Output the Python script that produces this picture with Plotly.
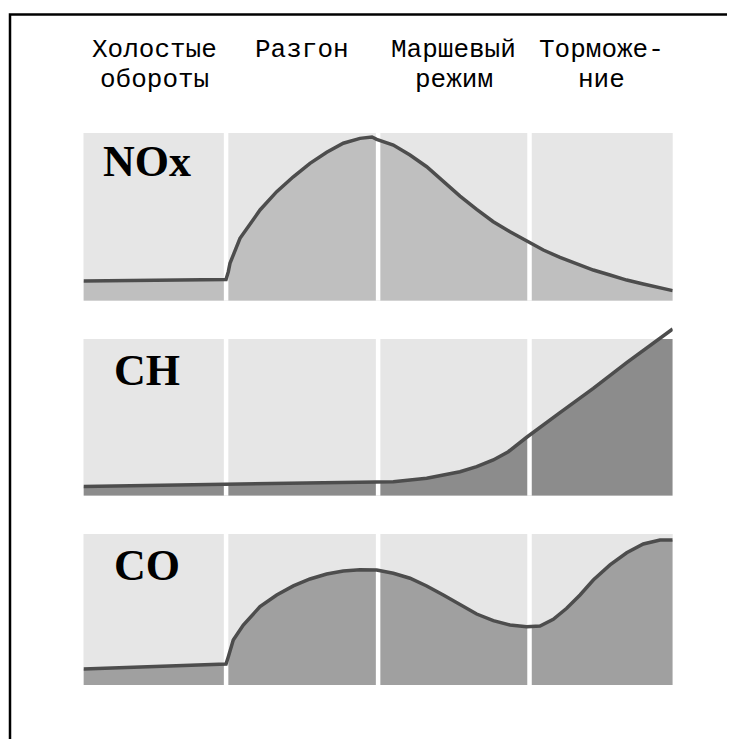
import plotly.graph_objects as go

# ---------------- data ----------------
phase_top = ["Холостые", "Разгон", "Маршевый", "Торможе-"]
phase_bottom = ["обороты", "", "режим", "ние"]
phase_bounds = [0, 24.2, 50.0, 75.7, 100]

nox_x = [0, 24.19, 24.58, 24.86, 26.56, 29.96, 32.79, 35.61, 38.44, 41.28, 44.09, 46.93,
         48.96, 49.76, 52.58, 55.41, 58.25, 61.07, 63.90, 66.73, 69.55, 72.39, 75.22,
         78.04, 80.87, 83.71, 86.52, 89.36, 92.19, 95.01, 97.85, 100]
nox_y = [11.7, 12.6, 17.3, 22.3, 37.2, 54.1, 65.0, 73.9, 81.9, 88.5, 93.9, 96.8,
         97.6, 96.2, 92.8, 86.9, 79.9, 71.0, 62.4, 54.5, 47.1, 41.1, 35.8,
         30.2, 25.9, 21.9, 18.3, 15.3, 12.3, 10.0, 8.0, 6.0]

ch_x = [0, 24.19, 49.64, 52.58, 58.25, 63.90, 66.73, 69.55, 72.10, 75.22, 80.87,
        86.52, 92.19, 97.85, 100]
ch_y = [5.9, 7.1, 8.6, 8.9, 11.1, 15.3, 18.5, 22.8, 28.1, 37.3, 53.0,
        68.5, 84.9, 100.4, 106.4]

co_x = [0, 24.19, 24.58, 25.42, 27.12, 29.96, 32.79, 35.61, 38.44, 41.28, 44.09, 46.93,
        49.76, 52.58, 55.41, 58.25, 61.07, 63.90, 66.73, 69.55, 72.39, 75.22, 77.48,
        79.73, 82.01, 84.27, 86.52, 89.36, 92.19, 95.01, 97.85, 100]
co_y = [10.6, 13.9, 18.7, 29.8, 39.7, 51.9, 59.6, 65.6, 70.2, 73.5, 75.5, 76.4,
        76.2, 74.0, 70.7, 65.6, 59.6, 53.0, 47.0, 42.6, 39.7, 38.6, 39.1,
        43.5, 50.8, 59.6, 69.5, 79.5, 87.6, 93.4, 96.0, 96.0]

pollutants = ["NOx", "CH", "CO"]
series_x = [nox_x, ch_x, co_x]
series_y = [nox_y, ch_y, co_y]

# ---------------- style / layout ----------------
W, H = 735, 739
PAGE_OFFSET = 8  # the page body adds an 8px margin around the figure
BG = "#e6e6e6"
LINE = "#4d4d4d"
FILLS = ["#bfbfbf", "#8c8c8c", "#a0a0a0"]
# panel pixel extents on screen (top, bottom)
PANELS = [(133, 300.7), (339, 495.7), (534, 685)]
LABEL_Y = [0.83, 0.80, 0.79]
X_LEFT, X_RIGHT = 83.5, 672.7
CH_OVER_TOP = 110  # overlay range so the CH line may leave its panel


def fx(p):
    return (p - PAGE_OFFSET) / W


def fy(p):
    return 1 - (p - PAGE_OFFSET) / H


fig = go.Figure()
layout = dict(
    width=W, height=H, margin=dict(l=0, r=0, t=0, b=0),
    paper_bgcolor="white", plot_bgcolor="rgba(0,0,0,0)", showlegend=False,
)
shapes = []
annotations = []

for i, name in enumerate(pollutants):
    n = i + 1
    xa = "x" if n == 1 else f"x{n}"
    ya = "y" if n == 1 else f"y{n}"
    top, bottom = PANELS[i]
    layout[f"xaxis{'' if n == 1 else n}"] = dict(
        domain=[fx(X_LEFT), fx(X_RIGHT)], range=[0, 100], visible=False,
        anchor=ya, fixedrange=True)
    layout[f"yaxis{'' if n == 1 else n}"] = dict(
        domain=[fy(bottom), fy(top)], range=[0, 100], visible=False,
        anchor=xa, fixedrange=True)
    shapes.append(dict(type="rect", xref=f"{xa} domain", yref=f"{ya} domain",
                       x0=0, x1=1, y0=0, y1=1, fillcolor=BG, line_width=0,
                       layer="below"))
    # fill under curve
    fig.add_trace(go.Scatter(x=series_x[i], y=series_y[i], xaxis=xa, yaxis=ya,
                             mode="lines", line=dict(width=0, color=FILLS[i]),
                             fill="tozeroy", fillcolor=FILLS[i], hoverinfo="skip"))
    # white phase separators
    dx, dy = [], []
    for b in phase_bounds[1:-1]:
        dx += [b, b, None]
        dy += [-10, 110, None]
    fig.add_trace(go.Scatter(x=dx, y=dy, xaxis=xa, yaxis=ya, mode="lines",
                             line=dict(width=4.5, color="white"), hoverinfo="skip"))
    if name != "CH":
        fig.add_trace(go.Scatter(x=series_x[i], y=series_y[i], xaxis=xa, yaxis=ya,
                                 mode="lines", line=dict(width=3.5, color=LINE)))
    annotations.append(dict(text=f"<b>{name}</b>", xref=f"{xa} domain",
                            yref=f"{ya} domain", x=0.107, y=LABEL_Y[i],
                            xanchor="center", yanchor="middle", showarrow=False,
                            font=dict(family="Times New Roman, Liberation Serif, serif",
                                      size=44, color="black")))

# overlay subplot for the CH curve (extends above its panel)
top, bottom = PANELS[1]
over_top_px = bottom - (bottom - top) * CH_OVER_TOP / 100
layout["xaxis4"] = dict(domain=[fx(X_LEFT), fx(X_RIGHT)], range=[0, 100],
                        visible=False, anchor="y4", fixedrange=True)
layout["yaxis4"] = dict(domain=[fy(bottom), fy(over_top_px)], range=[0, CH_OVER_TOP],
                        visible=False, anchor="x4", fixedrange=True)
fig.add_trace(go.Scatter(x=ch_x, y=ch_y, xaxis="x4", yaxis="y4", mode="lines",
                         line=dict(width=3.5, color=LINE)))

# phase headers
hfont = dict(family="Courier New, Liberation Mono, monospace", size=26, color="black")
for j in range(4):
    cx = (phase_bounds[j] + phase_bounds[j + 1]) / 2
    annotations.append(dict(text=phase_top[j], xref="x", yref="paper", x=cx,
                            y=fy(50), xanchor="center", yanchor="middle",
                            showarrow=False, font=hfont))
    if phase_bottom[j]:
        annotations.append(dict(text=phase_bottom[j], xref="x", yref="paper", x=cx,
                                y=fy(80), xanchor="center", yanchor="middle",
                                showarrow=False, font=hfont))

# outer frame (left and top edges visible, the rest runs off the page)
shapes.append(dict(type="rect", xref="paper", yref="paper",
                   x0=fx(10), x1=fx(W + 40), y0=fy(H + 40), y1=fy(14.5),
                   line=dict(color="black", width=2.5), fillcolor="rgba(0,0,0,0)",
                   layer="above"))

layout["shapes"] = shapes
layout["annotations"] = annotations
fig.update_layout(**layout)
fig.write_html("out.html")
